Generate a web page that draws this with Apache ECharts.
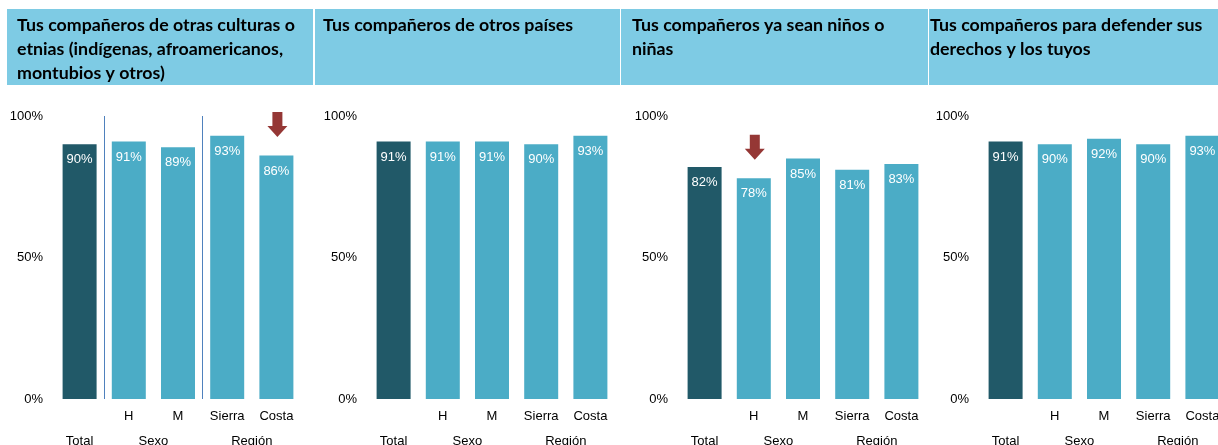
<!DOCTYPE html>
<html>
<head>
<meta charset="utf-8">
<script src="https://cdn.jsdelivr.net/npm/echarts@6/dist/echarts.min.js"></script>
<style>
    html, body { margin: 0; padding: 0; background: #fff; }
    #chart { width: 1218px; height: 445px; }
</style>
</head>
<body>
<div id="chart"></div>
<script>
// categorías y etiquetas de grupo (11 puntos: los grupos caen entre las barras)
const categories = ["Total", "H", "M", "Sierra", "Costa"];
const groupLabels = ["", "Total", "", "", "Sexo", "", "", "", "Región", "", ""];

// porcentajes por panel
const valsCulturas = [90, 91, 89, 93, 86];
const valsPaises = [91, 91, 91, 90, 93];
const valsNinos = [82, 78, 85, 81, 83];
const valsDerechos = [91, 90, 92, 90, 93];

const titles = [
    "Tus compañeros de otras culturas o\netnias (indígenas, afroamericanos,\nmontubios y otros)",
    "Tus compañeros de otros países",
    "Tus compañeros ya sean niños o\nniñas",
    "Tus compañeros para defender sus\nderechos y los tuyos"
];

// flecha roja: [panel, índice de categoría]
const arrows = [[0, 4], [2, 1]];

const yMin = 0;
const yMax = 100;
const yInterval = 50;

const colorDark = "#215968";
const colorLight = "#4bacc6";
const colorHeader = "#7ecbe4";
const colorArrow = "#953735";
const colorSep = "#4f81bd";

const panels = [valsCulturas, valsPaises, valsNinos, valsDerechos];
const gridLefts = [55, 369, 680, 981];
const headerBoxes = [[7, 306], [315, 305], [621, 307], [929, 289]];
const titleLefts = [17, 323, 632, 930];

const arrowPath = "path://M5,0 L15,0 L15,14 L20,14 L10,25 L0,14 L5,14 Z";

const chart = echarts.init(document.getElementById("chart"));

const grid = [];
const xAxis = [];
const yAxis = [];
const series = [];
const title = [];
const graphic = [];

panels.forEach((vals, i) => {
    grid.push({
        left: gridLefts[i],
        width: 246,
        top: 116,
        height: 283,
        outerBoundsMode: "none"
    });

    xAxis.push({
        type: "category",
        gridIndex: i,
        position: "bottom",
        data: categories,
        axisLine: { show: false },
        axisTick: { show: false },
        axisLabel: {
            interval: 0,
            margin: 11,
            color: "#000",
            fontFamily: "Liberation Sans",
            fontSize: 13,
            formatter: v => (v === "Total" ? "" : v)
        }
    });
    xAxis.push({
        type: "category",
        gridIndex: i,
        position: "bottom",
        boundaryGap: false,
        data: groupLabels,
        axisLine: { show: false },
        axisTick: { show: false },
        axisLabel: {
            interval: 0,
            margin: 36,
            color: "#000",
            fontFamily: "Liberation Sans",
            fontSize: 13
        },
        splitLine: {
            show: i === 0,
            interval: (idx) => idx === 2 || idx === 6,
            lineStyle: { color: colorSep, width: 1 }
        }
    });

    yAxis.push({
        type: "value",
        gridIndex: i,
        min: yMin,
        max: yMax,
        interval: yInterval,
        axisLine: { show: false },
        axisTick: { show: false },
        splitLine: { show: false },
        axisLabel: {
            margin: 12,
            color: "#000",
            fontFamily: "Liberation Sans",
            fontSize: 13,
            formatter: "{value}%"
        }
    });

    const marks = arrows
        .filter(a => a[0] === i)
        .map(a => ({ coord: [a[1], vals[a[1]]] }));

    series.push({
        type: "bar",
        xAxisIndex: i * 2,
        yAxisIndex: i,
        barWidth: 34,
        data: vals,
        itemStyle: {
            color: p => (p.dataIndex === 0 ? colorDark : colorLight)
        },
        label: {
            show: true,
            position: "insideTop",
            distance: 9,
            color: "#fff",
            fontFamily: "Liberation Sans",
            fontSize: 13,
            formatter: "{c}%"
        },
        markPoint: {
            symbol: arrowPath,
            symbolSize: [20, 25],
            symbolOffset: [1, -31],
            itemStyle: { color: colorArrow },
            label: { show: false },
            silent: true,
            data: marks
        }
    });

    const hb = headerBoxes[i];
    graphic.push({
        type: "rect",
        shape: { x: hb[0], y: 9, width: hb[1], height: 76 },
        style: { fill: colorHeader },
        z: -1
    });

    title.push({
        text: titles[i],
        left: titleLefts[i],
        top: 13,
        padding: 0,
        textStyle: {
            fontFamily: "Lato",
            fontWeight: "bold",
            fontSize: 17.8,
            lineHeight: 24,
            color: "#000"
        }
    });
});

chart.setOption({
    animation: false,
    title: title,
    graphic: graphic,
    grid: grid,
    xAxis: xAxis,
    yAxis: yAxis,
    series: series
});
</script>
</body>
</html>
